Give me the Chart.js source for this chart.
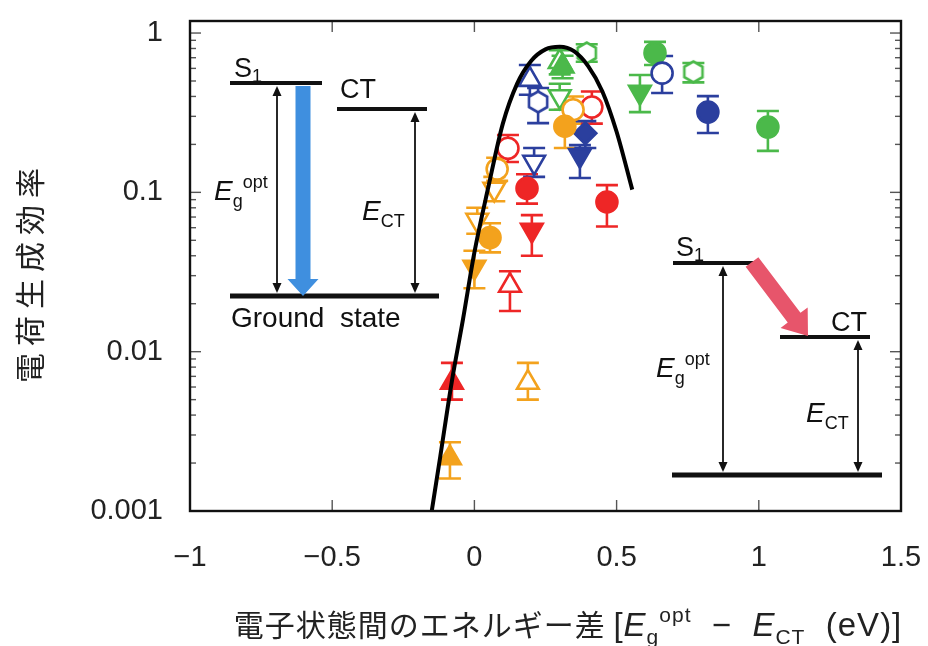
<!DOCTYPE html>
<html>
<head>
<meta charset="utf-8">
<script src="https://cdn.jsdelivr.net/npm/chart.js@4"></script>
<style>
html,body{margin:0;padding:0;background:#fff}
</style>
</head>
<body>
<canvas id="chart" width="928" height="646"></canvas>
<script>
// AXES
const xTicks=[-1,-0.5,0,0.5,1,1.5];
const yLabels=[0.001,0.01,0.1,1];
const yMinor=[1,2,3,4,5,6,7,8,9];

// FIT CURVE
const fitX=[-0.15,-0.12,-0.08,-0.04,0,0.05,0.1,0.15,0.2,0.25,0.3,0.35,0.4,0.45,0.5,0.555];
const fitY=[0.001,0.0022,0.0064,0.016,0.042,0.11,0.27,0.48,0.67,0.79,0.82,0.77,0.62,0.43,0.24,0.104];

// MEASURED POINTS: [x, y, errLow, errHigh]
const orangeTriUp=[[-0.086,0.00215,0.0016,0.0027]];
const orangeTriUpOpen=[[0.188,0.0064,0.005,0.0085]];
const orangeTriDown=[[0.0,0.034,0.025,0.043]];
const orangeTriDownOpen=[[0.01,0.067,0.055,0.08],[0.07,0.105,0.088,0.125]];
const orangeCircle=[[0.055,0.052,0.042,0.064],[0.318,0.26,0.19,0.33]];
const orangeCircleOpen=[[0.08,0.14,0.118,0.165],[0.347,0.33,0.27,0.4]];

const redTriUp=[[-0.079,0.0064,0.005,0.0085]];
const redTriUpOpen=[[0.125,0.026,0.018,0.032]];
const redTriDown=[[0.202,0.058,0.04,0.072]];
const redCircle=[[0.185,0.106,0.085,0.13],[0.466,0.087,0.061,0.111]];
const redCircleOpen=[[0.118,0.189,0.155,0.229],[0.413,0.343,0.27,0.43]];

const blueTriUpOpen=[[0.195,0.51,0.41,0.63]];
const blueTriDown=[[0.371,0.171,0.123,0.198]];
const blueTriDownOpen=[[0.21,0.155,0.125,0.19]];
const blueHexOpen=[[0.224,0.37,0.272,0.452]];
const blueDiamond=[[0.39,0.235,0.19,0.28]];
const blueCircle=[[0.821,0.319,0.236,0.402]];
const blueCircleOpen=[[0.66,0.56,0.42,0.717]];

const greenTriUp=[[0.31,0.62,0.52,0.72]];
const greenTriUpOpen=[[0.3,0.66,0.55,0.78]];
const greenTriDown=[[0.582,0.426,0.319,0.545]];
const greenTriDownOpen=[[0.3,0.4,0.33,0.48]];
const greenHexOpen=[[0.395,0.75,0.66,0.85],[0.77,0.57,0.49,0.648]];
const greenCircle=[[0.635,0.75,0.63,0.88],[1.032,0.257,0.182,0.324]];

const ORANGE='#f3a21d', RED='#ee2626', BLUE='#2b3f9e', GREEN='#4bb94a';
const TXT_FONT='"Liberation Sans",Arial,sans-serif';
const CJK_FONT='"Noto Sans CJK JP","Noto Sans CJK SC",sans-serif';

function hexImg(color){
  const c=document.createElement('canvas'); c.width=c.height=28;
  const g=c.getContext('2d');
  g.beginPath();
  for(let i=0;i<6;i++){const a=Math.PI/3*i+Math.PI/6; g.lineTo(14+10.5*Math.cos(a),14+10.5*Math.sin(a));}
  g.closePath(); g.fillStyle='#fff'; g.fill();
  g.lineWidth=2.6; g.strokeStyle=color; g.stroke();
  return c;
}

function series(rows,color,style,open,rot){
  const tri=style==='triangle';
  return {
    type:'scatter',
    order:2,
    data:rows.map(r=>({x:r[0],y:r[1]})),
    err:rows.map(r=>[r[2],r[3]]),
    errColor:color,
    pointStyle:style==='hex'?hexImg(color):style,
    pointRotation:rot||0,
    pointRadius:tri?12.5:(style==='rectRot'?11:10.5),
    pointBackgroundColor:open?'#fff':color,
    pointBorderColor:color,
    pointBorderWidth:2.6
  };
}

// ERROR BARS
const errorBars={
  id:'errorBars',
  beforeDatasetsDraw(chart){
    const {ctx,scales:{x,y}}=chart;
    ctx.save();
    chart.data.datasets.forEach(ds=>{
      if(!ds.err) return;
      ctx.strokeStyle=ds.errColor; ctx.lineWidth=2.6;
      ds.data.forEach((p,i)=>{
        const px=x.getPixelForValue(p.x);
        const lo=y.getPixelForValue(ds.err[i][0]), hi=y.getPixelForValue(ds.err[i][1]);
        ctx.beginPath();
        ctx.moveTo(px,lo); ctx.lineTo(px,hi);
        ctx.moveTo(px-11,lo); ctx.lineTo(px+11,lo);
        ctx.moveTo(px-11,hi); ctx.lineTo(px+11,hi);
        ctx.stroke();
      });
    });
    ctx.restore();
  }
};

function seg(ctx,x1,y1,x2,y2){ctx.beginPath();ctx.moveTo(x1,y1);ctx.lineTo(x2,y2);ctx.stroke();}

function rich(ctx,x,y,parts,align){
  let w=0;
  parts.forEach(p=>{ctx.font=p[1]; w+=ctx.measureText(p[0]).width;});
  let cx=align==='center'?x-w/2:x;
  parts.forEach(p=>{ctx.font=p[1]; ctx.fillText(p[0],cx,y+(p[2]||0)); cx+=ctx.measureText(p[0]).width;});
}

function dblArrow(ctx,x,y1,y2){
  ctx.lineWidth=1.8; seg(ctx,x,y1+6,x,y2-6);
  ctx.beginPath(); ctx.moveTo(x,y1); ctx.lineTo(x-4.5,y1+10); ctx.lineTo(x+4.5,y1+10); ctx.fill();
  ctx.beginPath(); ctx.moveTo(x,y2); ctx.lineTo(x-4.5,y2-10); ctx.lineTo(x+4.5,y2-10); ctx.fill();
}

function fatArrow(ctx,x1,y1,x2,y2,shaft,head,headLen,color){
  const dx=x2-x1, dy=y2-y1, L=Math.hypot(dx,dy), ux=dx/L, uy=dy/L, nx=-uy, ny=ux;
  const bx=x2-ux*headLen, by=y2-uy*headLen;
  ctx.beginPath();
  ctx.moveTo(x1+nx*shaft/2,y1+ny*shaft/2);
  ctx.lineTo(bx+nx*shaft/2,by+ny*shaft/2);
  ctx.lineTo(bx+nx*head/2,by+ny*head/2);
  ctx.lineTo(x2,y2);
  ctx.lineTo(bx-nx*head/2,by-ny*head/2);
  ctx.lineTo(bx-nx*shaft/2,by-ny*shaft/2);
  ctx.lineTo(x1-nx*shaft/2,y1-ny*shaft/2);
  ctx.closePath();
  ctx.fillStyle=color; ctx.fill();
}

function eg(ctx,x,y){
  rich(ctx,x,y,[['E','italic 28px '+TXT_FONT],['g','18px '+TXT_FONT,7],['opt','18px '+TXT_FONT,-12]]);
}
function ect(ctx,x,y){
  rich(ctx,x,y,[['E','italic 28px '+TXT_FONT],['CT','18px '+TXT_FONT,7]]);
}

// FRAME, INWARD TICKS, DIAGRAMS
const decor={
  id:'decor',
  afterDatasetsDraw(chart){
    const {ctx,chartArea:a,scales:{x,y}}=chart;
    ctx.save();
    ctx.strokeStyle='#555'; ctx.lineWidth=1.4;
    x.ticks.forEach(t=>{
      const p=x.getPixelForValue(t.value);
      seg(ctx,p,a.bottom,p,a.bottom-11); seg(ctx,p,a.top,p,a.top+11);
    });
    y.ticks.forEach(t=>{
      const p=y.getPixelForValue(t.value);
      const L=yLabels.includes(t.value)?11:6;
      seg(ctx,a.left,p,a.left+L,p); seg(ctx,a.right,p,a.right-L,p);
    });
    ctx.strokeStyle='#111'; ctx.lineWidth=2.4;
    ctx.strokeRect(a.left,a.top,a.right-a.left,a.bottom-a.top);

    // left diagram
    ctx.fillStyle='#111'; ctx.strokeStyle='#111';
    ctx.lineWidth=4;
    seg(ctx,230,83,322,83); seg(ctx,337,109,427,109);
    ctx.lineWidth=5; seg(ctx,230,296,439,296);
    dblArrow(ctx,277,86,293); dblArrow(ctx,415,112,293);
    fatArrow(ctx,303,86,303,296,15,31,17,'#3f8fdf');
    ctx.fillStyle='#111';
    rich(ctx,234,77,[['S','27px '+TXT_FONT],['1','18px '+TXT_FONT,5]]);
    rich(ctx,340,98,[['CT','27px '+TXT_FONT]]);
    rich(ctx,231,327,[['Ground  state','28px '+TXT_FONT]]);
    eg(ctx,214,200); ect(ctx,362,220);

    // right diagram
    ctx.lineWidth=4;
    seg(ctx,673,263,755,263); seg(ctx,780,337,870,337);
    ctx.lineWidth=5; seg(ctx,672,475,882,475);
    dblArrow(ctx,723,266,472); dblArrow(ctx,858,340,472);
    fatArrow(ctx,752,262,808,336,16,34,23,'#e7556b');
    ctx.fillStyle='#111';
    rich(ctx,676,256,[['S','27px '+TXT_FONT],['1','18px '+TXT_FONT,5]]);
    rich(ctx,831,331,[['CT','27px '+TXT_FONT]]);
    eg(ctx,656,377); ect(ctx,806,422);
    ctx.restore();
  }
};

// AXIS TITLES (rich text, so drawn by hand)
const titles={
  id:'titles',
  afterDraw(chart){
    const ctx=chart.ctx;
    ctx.save();
    ctx.fillStyle='#222';
    const parts=[
      ['電子状態間のエネルギー差 ','30px '+CJK_FONT],
      ['[','33px '+TXT_FONT],['E','italic 33px '+TXT_FONT],['g','21px '+TXT_FONT,8],['opt','21px '+TXT_FONT,-14],
      ['  \u2212  ','33px '+TXT_FONT],['E','italic 33px '+TXT_FONT],['CT','21px '+TXT_FONT,8],['  (eV)]','33px '+TXT_FONT]
    ];
    ctx.letterSpacing='1px';
    rich(ctx,568,636,parts,'center');
    ctx.letterSpacing='7px';
    ctx.translate(30,272); ctx.rotate(-Math.PI/2);
    ctx.font='30px '+CJK_FONT; ctx.textAlign='center'; ctx.textBaseline='middle';
    ctx.fillText('電荷生成効率',0,0);
    ctx.restore();
  }
};

window.onload=function(){
  const datasets=[
    {type:'line',order:0,data:fitX.map((v,i)=>({x:v,y:fitY[i]})),borderColor:'#000',borderWidth:4,pointRadius:0,cubicInterpolationMode:'monotone',fill:false},
    series(orangeTriUp,ORANGE,'triangle',false),
    series(orangeTriUpOpen,ORANGE,'triangle',true),
    series(orangeTriDown,ORANGE,'triangle',false,180),
    series(orangeTriDownOpen,ORANGE,'triangle',true,180),
    series(orangeCircle,ORANGE,'circle',false),
    series(orangeCircleOpen,ORANGE,'circle',true),
    series(redTriUp,RED,'triangle',false),
    series(redTriUpOpen,RED,'triangle',true),
    series(redTriDown,RED,'triangle',false,180),
    series(redCircle,RED,'circle',false),
    series(redCircleOpen,RED,'circle',true),
    series(blueTriUpOpen,BLUE,'triangle',true),
    series(blueTriDown,BLUE,'triangle',false,180),
    series(blueTriDownOpen,BLUE,'triangle',true,180),
    series(blueHexOpen,BLUE,'hex',true),
    series(blueDiamond,BLUE,'rectRot',false),
    series(blueCircle,BLUE,'circle',false),
    series(blueCircleOpen,BLUE,'circle',true),
    series(greenTriUp,GREEN,'triangle',false),
    series(greenTriUpOpen,GREEN,'triangle',true),
    series(greenTriDown,GREEN,'triangle',false,180),
    series(greenTriDownOpen,GREEN,'triangle',true,180),
    series(greenHexOpen,GREEN,'hex',true),
    series(greenCircle,GREEN,'circle',false)
  ];

  new Chart(document.getElementById('chart'),{
    type:'scatter',
    data:{datasets},
    options:{
      responsive:false,
      animation:false,
      layout:{padding:{left:0,right:27,top:21,bottom:0}},
      plugins:{legend:{display:false},tooltip:{enabled:false}},
      scales:{
        x:{
          type:'linear',min:-1,max:1.5,
          afterBuildTicks:s=>{s.ticks=xTicks.map(v=>({value:v}));},
          afterFit:s=>{s.height=135; s.paddingLeft=0; s.paddingRight=0;},
          grid:{display:false,drawTicks:false},
          border:{display:false},
          ticks:{padding:30,autoSkip:false,maxRotation:0,color:'#222',font:{family:TXT_FONT,size:29},
            callback:v=>String(v).replace('-','\u2212')}
        },
        y:{
          type:'logarithmic',min:0.001,max:1.19,
          afterBuildTicks:s=>{
            const t=[];
            yLabels.slice(0,3).forEach(d=>yMinor.forEach(m=>t.push({value:Number((m*d).toPrecision(3))})));
            t.push({value:1});
            s.ticks=t;
          },
          afterFit:s=>{s.width=190; s.paddingTop=0; s.paddingBottom=0;},
          grid:{display:false,drawTicks:false},
          border:{display:false},
          ticks:{padding:27,autoSkip:false,color:'#222',font:{family:TXT_FONT,size:29},
            callback:v=>yLabels.includes(v)?String(v):''}
        }
      }
    },
    plugins:[errorBars,decor,titles]
  });
};
</script>
</body>
</html>
